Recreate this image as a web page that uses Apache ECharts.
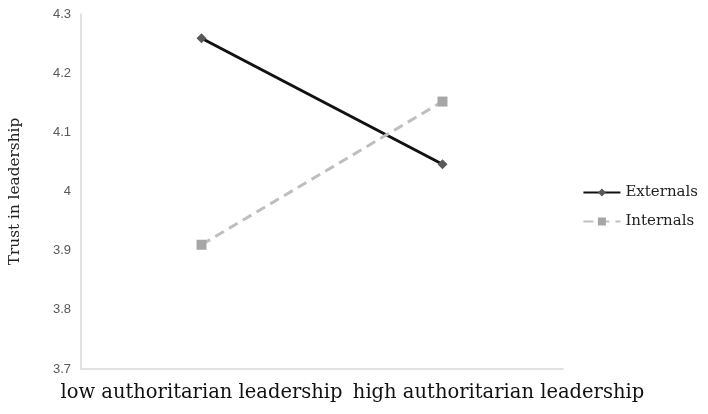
<!DOCTYPE html>
<html><head><meta charset="utf-8">
<script src="https://cdn.jsdelivr.net/npm/echarts@6/dist/echarts.min.js"></script>
<style>html,body{margin:0;padding:0;background:#fff}#c{width:708px;height:414px}</style>
</head><body><div id="c"></div>
<script>
const categories = ["low authoritarian leadership", "high authoritarian leadership"];
const externals = [4.259, 4.046];
const internals = [3.91, 4.152];
const yTicks = { min: 3.7, max: 4.3, interval: 0.1 };

const serif = 'DejaVu Serif';
const chart = echarts.init(document.getElementById('c'));
chart.setOption({
  animation: false,
  grid: { left: 81, right: 145, top: 14, bottom: 45, outerBoundsMode: 'none', containLabel: false },
  legend: {
    orient: 'vertical', right: 5, top: 180, itemGap: 14,
    itemWidth: 37, itemHeight: 10,
    textStyle: { fontFamily: serif, fontSize: 15, color: '#222' },
    data: ['Externals', 'Internals']
  },
  xAxis: {
    type: 'category', data: categories, boundaryGap: true,
    axisLine: { lineStyle: { color: '#d9d9d9', width: 1.5 } },
    axisTick: { show: false },
    axisLabel: {
      fontFamily: serif, fontSize: 19.5, color: '#111', margin: 14, interval: 0,
      formatter: (v, i) => i === 1 ? '{h|' + v + '}' : '{l|' + v + '}',
      rich: {
        l: { fontFamily: serif, fontSize: 19.5, color: '#111' },
        h: { fontFamily: serif, fontSize: 19.5, color: '#111', padding: [0, 0, 0, 112] }
      }
    }
  },
  yAxis: {
    type: 'value', min: yTicks.min, max: yTicks.max, interval: yTicks.interval,
    name: 'Trust in leadership', nameLocation: 'middle', nameGap: 58, nameRotate: 90,
    nameTextStyle: { fontFamily: serif, fontSize: 15.3, color: '#222' },
    axisLine: { show: true, lineStyle: { color: '#d9d9d9', width: 1.5 } },
    axisTick: { show: false },
    splitLine: { show: false },
    axisLabel: {
      fontFamily: 'Liberation Sans', fontSize: 13, color: '#595959', margin: 10,
      formatter: v => { const r = Math.round(v * 10) / 10; return r === 4 ? '4' : r.toFixed(1); }
    }
  },
  series: [
    { name: 'Externals', type: 'line', data: externals, symbol: 'diamond', symbolSize: 10,
      lineStyle: { color: '#111', width: 3 }, itemStyle: { color: '#595959' } },
    { name: 'Internals', type: 'line', data: internals, symbol: 'rect', symbolSize: 10,
      lineStyle: { color: '#bfbfbf', width: 3, type: [10, 6] }, itemStyle: { color: '#a6a6a6' } }
  ]
});
</script></body></html>
